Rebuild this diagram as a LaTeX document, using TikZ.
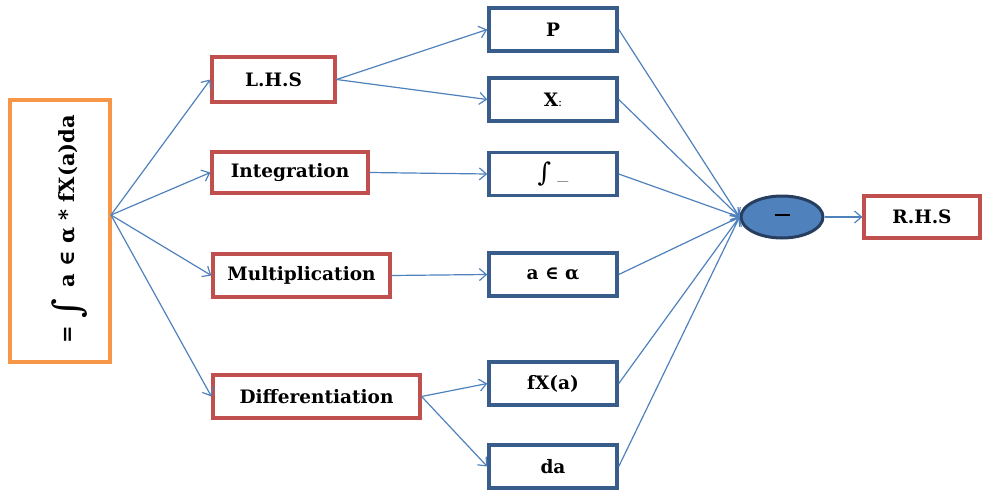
\documentclass[tikz,border=0pt]{standalone}
\usepackage{fontspec}
\setmainfont{DejaVu Serif}
\usetikzlibrary{arrows.meta,shapes.geometric}
\definecolor{redb}{RGB}{192,80,77}
\definecolor{blueb}{RGB}{56,93,138}
\definecolor{orangeb}{RGB}{247,150,70}
\definecolor{linec}{RGB}{79,129,189}
\definecolor{ellb}{RGB}{40,62,95}
\tikzset{
  redbox/.style={draw=redb,line width=3.2pt,fill=white,inner sep=0pt,font=\fontsize{18.5}{20}\selectfont\bfseries},
  bluebox/.style={draw=blueb,line width=3.5pt,fill=white,inner sep=0pt,minimum width=128pt,minimum height=43pt,font=\fontsize{18.5}{20}\selectfont\bfseries},
  conn/.style={draw=linec,line width=1.2pt,-{Straight Barb[length=7pt,width=12pt,line width=1.2pt]}},
}
\begin{document}
\begin{tikzpicture}[x=1pt,y=-1pt]
\useasboundingbox (0,0) rectangle (983,490);
% left box
\node[draw=orangeb,line width=3.2pt,minimum width=100pt,minimum height=262pt,inner sep=0pt] (src) at (60,231) {};
\node[rotate=90,font=\fontsize{21}{22}\selectfont\bfseries] (eq) at (70,229) {= \raisebox{-6pt}{\fontsize{38}{38}\selectfont\mdseries ∫}\, a ∈ α * fX(a)da};
\coordinate (fan) at (111,215);
% red boxes
\node[redbox,minimum width=123pt,minimum height=45pt] (lhs) at (273.5,79.5) {L.H.S};
\node[redbox,minimum width=156pt,minimum height=41pt] (int) at (290,172.5) {Integration};
\node[redbox,minimum width=177pt,minimum height=43pt] (mul) at (301.5,275.5) {Multiplication};
\node[redbox,minimum width=207pt,minimum height=43pt] (dif) at (316.5,396.5) {Differentiation};
% blue boxes
\node[bluebox] (p) at (553,29.5) {P};
\node[bluebox] (x2) at (553,99.5) {X{\fontsize{12}{12}\selectfont\mdseries :}};
\node[bluebox] (ig) at (553,174) {\raisebox{-2pt}{\fontsize{26}{26}\selectfont\mdseries ∫}\hspace{6pt}{\fontsize{11}{11}\selectfont\mdseries \_\_}};
\node[bluebox] (ae) at (553,274.5) {a ∈ α};
\node[bluebox] (fx) at (553,383.5) {fX(a)};
\node[bluebox] (da) at (553,466.5) {da};
% ellipse and rhs
\node[ellipse,draw=ellb,line width=3pt,fill=linec,minimum width=82pt,minimum height=42pt,inner sep=0pt] (ell) at (782,217) {\rule[4pt]{15pt}{2pt}};
\node[redbox,minimum width=116pt,minimum height=42pt] (rhs) at (922,217) {R.H.S};
% connectors
\draw[conn] (fan) -- (lhs.west);
\draw[conn] (fan) -- (int.west);
\draw[conn] (fan) -- (mul.west);
\draw[conn] (fan) -- (dif.west);
\draw[conn] (lhs.east) -- (p.west);
\draw[conn] (lhs.east) -- (x2.west);
\draw[conn] (int.east) -- (ig.west);
\draw[conn] (mul.east) -- (ae.west);
\draw[conn] (dif.east) -- (fx.west);
\draw[conn] (dif.east) -- (da.west);
\draw[conn] (p.east) -- (ell.west);
\draw[conn] (x2.east) -- (ell.west);
\draw[conn] (ig.east) -- (ell.west);
\draw[conn] (ae.east) -- (ell.west);
\draw[conn] (fx.east) -- (ell.west);
\draw[conn] (da.east) -- (ell.west);
\draw[conn] (ell.east) -- (rhs.west);
\end{tikzpicture}
\end{document}
